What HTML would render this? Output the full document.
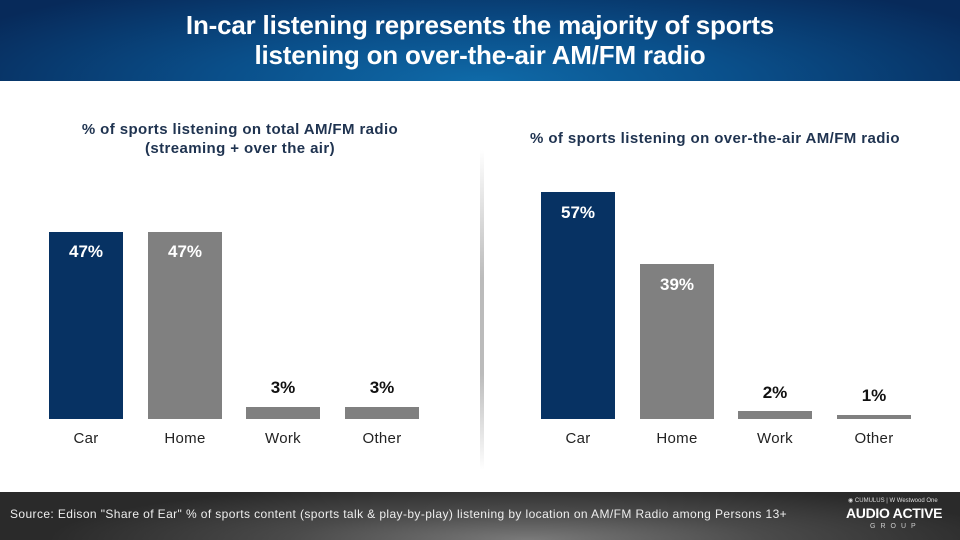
<!DOCTYPE html>
<html><head><meta charset="utf-8"><style>
*{margin:0;padding:0;box-sizing:border-box}
body{width:960px;height:540px;overflow:hidden;background:#fff;position:relative;font-family:"Liberation Sans",sans-serif}
.hdr{position:absolute;left:0;top:0;width:960px;height:81px;background:radial-gradient(ellipse 60% 140% at 50% 100%,#0f6aa8 0%,#0a4f8a 45%,#072a5a 100%);color:#fff;text-align:center;font-weight:bold;font-size:26px;line-height:30px;padding-top:10px;letter-spacing:-0.2px}
.st{position:absolute;color:#1f3350;font-weight:bold;font-size:15px;text-align:center;line-height:19px;letter-spacing:0.4px}
.bar{position:absolute;width:74px}
.n{background:#073263}.g{background:#808080}
.v{position:absolute;width:74px;text-align:center;font-weight:bold;font-size:17px}
.w{color:#fff}.k{color:#111}
.lb{position:absolute;width:100px;text-align:center;font-size:15px;color:#222;top:430px;letter-spacing:0.3px}
.div{position:absolute;left:480px;top:150px;width:4px;height:320px;background:linear-gradient(#fff,#bbb 40%,#bbb 70%,#fff)}
.ftr{position:absolute;left:0;top:492px;width:960px;height:48px;background:radial-gradient(ellipse 50% 120% at 55% 100%,#7a7a7a 0%,#4a4a4a 50%,#2a2a2a 100%);color:#eee}
</style></head><body>
<div class="hdr">In-car listening represents the majority of sports<br>listening on over-the-air AM/FM radio</div>
<div class="st" style="left:20px;width:440px;top:120px">% of sports listening on total AM/FM radio<br>(streaming + over the air)</div>
<div class="st" style="left:495px;width:440px;top:129px">% of sports listening on over-the-air AM/FM radio</div>
<div class="div"></div>

<div class="bar n" style="left:49px;top:232px;height:187px"></div>
<div class="bar g" style="left:148px;top:232px;height:187px"></div>
<div class="bar g" style="left:246px;top:407px;height:12px"></div>
<div class="bar g" style="left:345px;top:407px;height:12px"></div>
<div class="v w" style="left:49px;top:242px">47%</div>
<div class="v w" style="left:148px;top:242px">47%</div>
<div class="v k" style="left:246px;top:378px">3%</div>
<div class="v k" style="left:345px;top:378px">3%</div>

<div class="bar n" style="left:541px;top:192px;height:227px"></div>
<div class="bar g" style="left:640px;top:264px;height:155px"></div>
<div class="bar g" style="left:738px;top:411px;height:8px"></div>
<div class="bar g" style="left:837px;top:415px;height:4px"></div>
<div class="v w" style="left:541px;top:203px">57%</div>
<div class="v w" style="left:640px;top:275px">39%</div>
<div class="v k" style="left:738px;top:383px">2%</div>
<div class="v k" style="left:837px;top:386px">1%</div>

<div class="lb" style="left:36px">Car</div>
<div class="lb" style="left:135px">Home</div>
<div class="lb" style="left:233px">Work</div>
<div class="lb" style="left:332px">Other</div>
<div class="lb" style="left:528px">Car</div>
<div class="lb" style="left:627px">Home</div>
<div class="lb" style="left:725px">Work</div>
<div class="lb" style="left:824px">Other</div>

<div class="ftr">
<div style="position:absolute;left:10px;top:15px;font-size:12px;letter-spacing:0.4px;white-space:nowrap">Source: Edison "Share of Ear" % of sports content (sports talk &amp; play-by-play) listening by location on AM/FM Radio among Persons 13+</div>
<div style="position:absolute;left:848px;top:5px;font-size:6px;color:#ddd">◉ CUMULUS | W Westwood One</div>
<div style="position:absolute;left:846px;top:13px;font-size:14px;font-weight:bold;color:#fff;letter-spacing:-0.3px">AUDIO ACTIVE</div>
<div style="position:absolute;left:870px;top:31px;font-size:7px;letter-spacing:5px;color:#ccc">GROUP</div>
</div>
</body></html>
